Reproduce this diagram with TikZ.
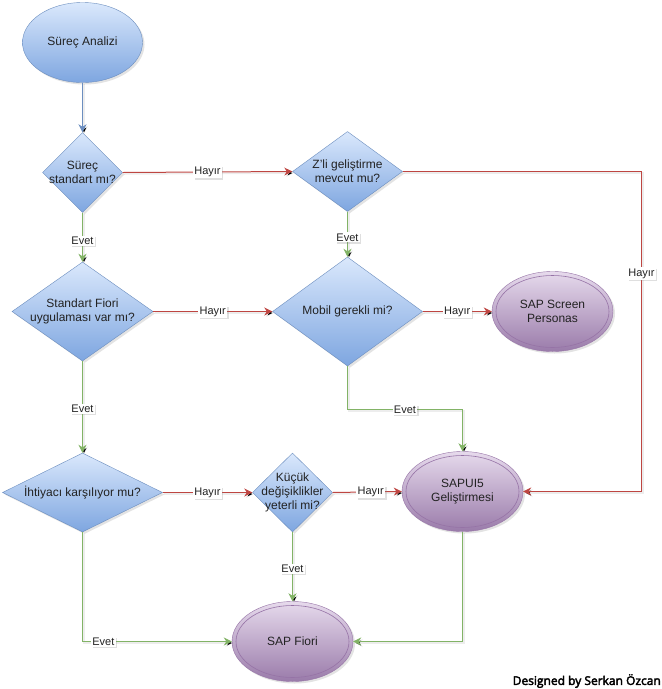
\documentclass[tikz,border=0pt]{standalone}
\usepackage{fontspec}
\setmainfont{Liberation Sans}
\newfontfamily\sigfont[FakeBold=3]{Open Sans}
\usetikzlibrary{shapes.geometric,arrows.meta,shadows}
\definecolor{bstroke}{HTML}{6C8EBF}
\definecolor{btop}{HTML}{DAE8FC}
\definecolor{bbot}{HTML}{7EA6E0}
\definecolor{pstroke}{HTML}{9673A6}
\definecolor{ptop}{HTML}{E6DAEC}
\definecolor{pbot}{HTML}{9A7BAA}
\definecolor{redl}{RGB}{190,70,66}
\definecolor{greenl}{HTML}{82B366}
\definecolor{txt}{HTML}{222222}
\tikzset{
  shd/.style={drop shadow={opacity=0.22,shadow xshift=2pt,shadow yshift=-2pt}},
  bluebox/.style={draw=bstroke,top color=btop,bottom color=bbot,shd,inner sep=0pt,text=txt,
     font=\fontsize{12}{14}\selectfont,align=center},
  startel/.style={bluebox,ellipse,minimum width=120,minimum height=80},
  decide/.style={bluebox,diamond,aspect=1},
  endel/.style={draw=pstroke,top color=ptop,bottom color=pbot,shd,inner sep=0pt,text=txt,
     font=\fontsize{12}{14}\selectfont,align=center,ellipse,minimum width=121,minimum height=80},
  dtext/.style={text=txt,font=\fontsize{12}{14}\selectfont,align=center,inner sep=0pt},
  lbl/.style={fill=white,inner sep=1.2pt,text=txt,font=\fontsize{11}{12}\selectfont,
     drop shadow={opacity=0.25,shadow xshift=1.5pt,shadow yshift=-1.5pt}},
  arrowtip/.style={-{Stealth[length=8pt,width=8pt,inset=2.5pt]}},
  lineshadow/.style={preaction={draw=black,draw opacity=0.07,line width=1.5pt,
     transform canvas={shift={(1.5pt,-1.5pt)}}}},
  bluearrow/.style={color=bstroke,line width=1pt,arrowtip,lineshadow},
  redarrow/.style={color=redl,line width=1pt,arrowtip,lineshadow},
  redline/.style={color=redl,line width=1pt,lineshadow},
  greenarrow/.style={color=greenl,line width=1pt,arrowtip,lineshadow},
}
\begin{document}
\begin{tikzpicture}[x=1pt,y=-1pt]
\useasboundingbox[fill=white] (0,0) rectangle (662,689);
\begin{scope}[shift={(0.5pt,-0.5pt)}]
% nodes
\node[startel] (s0) at (82,42) {Süreç Analizi};
\node[decide,minimum width=80,minimum height=80] (d1) at (82,172) {};
\node[decide,minimum width=110,minimum height=80] (z) at (347,171) {};
\node[decide,minimum width=141,minimum height=99] (d2) at (82,311) {};
\node[decide,minimum width=150,minimum height=109] (mob) at (347,311) {};
\node[endel] (per) at (552,311) {SAP Screen\\Personas};
\node[decide,minimum width=160,minimum height=79] (d3) at (82,492) {};
\node[decide,minimum width=80,minimum height=79] (kc) at (292,492) {};
\node[endel] (s5) at (462,491) {SAPUI5\\Geliştirmesi};
\node[endel] (fi) at (292,641) {SAP Fiori};
\foreach \n in {per,s5,fi}
  \draw[pstroke,line width=0.6pt] (\n.center) ellipse [x radius=56.5,y radius=36];
% connectors
\coordinate (c1) at (347,409);
\coordinate (rr) at (641,273);
\draw[bluearrow] (s0) -- (d1);
\draw[redarrow] (d1.east) -- node[lbl]{Hayır} (z.west);
\draw[greenarrow] (d1.south) -- node[lbl,pos=0.57]{Evet} (d2.north);
\draw[greenarrow] (z.south) -- node[lbl,pos=0.57]{Evet} (mob.north);
\draw[redline] (z.east) -| (rr);
\draw[redarrow] (rr) |- (s5.east);
\node[lbl] (rrl) at (rr) {Hayır};
\draw[redarrow] (d2.east) -- node[lbl]{Hayır} (mob.west);
\draw[redarrow] (mob.east) -- node[lbl]{Hayır} (per.west);
\draw[greenarrow] (mob.south) -- (c1) -| node[lbl,pos=0.25]{Evet} (s5.north);
\draw[greenarrow] (d2.south) -- node[lbl,pos=0.52]{Evet} (d3.north);
\draw[redarrow] (d3.east) -- node[lbl]{Hayır} (kc.west);
\draw[redarrow] (kc.east) -- node[lbl,pos=0.55]{Hayır} (s5.west);
\draw[greenarrow] (kc.south) -- node[lbl,pos=0.53]{Evet} (fi.north);
\draw[greenarrow] (d3.south) |- node[lbl,pos=0.57]{Evet} (fi.west);
\draw[greenarrow] (s5.south) |- (fi.east);
% diamond texts
\node[dtext] (d1t) at (d1.center) {Süreç\\standart mı?};
\node[dtext] (zt) at (z.center) {Z'li geliştirme\\mevcut mu?};
\node[dtext] (d2t) at (d2.center) {Standart Fiori\\uygulaması var mı?};
\node[dtext] (mobt) at (mob.center) {Mobil gerekli mi?};
\node[dtext] (d3t) at (d3.center) {İhtiyacı karşılıyor mu?};
\node[dtext] (kct) at (kc.center) {Küçük\\değişiklikler\\yeterli mi?};
\end{scope}
\node[anchor=east,inner sep=0pt,font=\sigfont\fontsize{12}{14}\selectfont,text=black] (sig) at (661,681) {Designed by Serkan Özcan};
\end{tikzpicture}
\end{document}
